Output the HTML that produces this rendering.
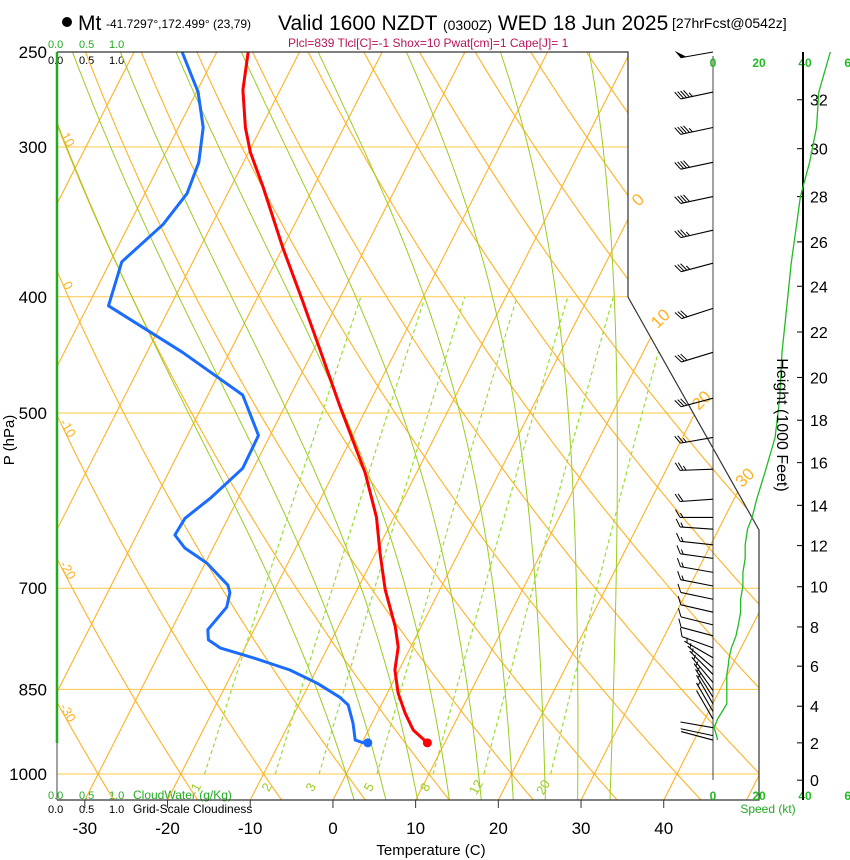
<!DOCTYPE html>
<html><head><meta charset="utf-8">
<style>
html,body{margin:0;padding:0;background:#fff;}
svg{display:block;font-family:"Liberation Sans",sans-serif;}
</style></head>
<body>
<svg id="chart" width="850" height="860" viewBox="0 0 850 860" xmlns="http://www.w3.org/2000/svg">
<defs>
<clipPath id="clipAll"><polygon points="57,52 628,52 628,297 759,530 759,800 57,800"/></clipPath>
<clipPath id="clipMain"><polygon points="57,52 628,52 628,297 759,530 759,800 57,800"/></clipPath>
</defs>
<g id="title">
<circle cx="67" cy="22" r="5" fill="#000"/>
<text x="78" y="30" font-size="21">Mt</text>
<text x="106" y="28" font-size="12">-41.7297°,172.499° (23,79)</text>
<text x="278" y="30" font-size="21">Valid 1600 NZDT <tspan font-size="14">(0300Z)</tspan> WED 18 Jun 2025</text>
<text x="672" y="28" font-size="14">[27hrFcst@0542z]</text>
<text x="288" y="47" font-size="12" fill="#b8145a">Plcl=839 Tlcl[C]=-1 Shox=10 Pwat[cm]=1 Cape[J]= 1</text>
</g>
<g font-size="11">
<text x="48" y="48" fill="#22aa22">0.0</text><text x="79" y="48" fill="#22aa22">0.5</text><text x="109" y="48" fill="#22aa22">1.0</text>
<text x="48" y="64" fill="#000">0.0</text><text x="79" y="64" fill="#000">0.5</text><text x="109" y="64" fill="#000">1.0</text>
</g>
<g font-size="11">
<text x="48" y="799" fill="#22aa22">0.0</text><text x="79" y="799" fill="#22aa22">0.5</text><text x="109" y="799" fill="#22aa22">1.0</text>
<text x="133" y="799" fill="#22aa22" font-size="12">CloudWater (g/Kg)</text>
<text x="48" y="813" fill="#000">0.0</text><text x="79" y="813" fill="#000">0.5</text><text x="109" y="813" fill="#000">1.0</text>
<text x="133" y="813" fill="#000" font-size="12">Grid-Scale Cloudiness</text>
</g>
<g id="grid" clip-path="url(#clipAll)"></g>
<g id="moist" clip-path="url(#clipMain)"></g>
<g id="profiles" clip-path="url(#clipAll)"></g>
<g id="frame"></g>
<g id="labels"></g>
<g id="wind"></g>
<text x="431" y="855" font-size="15" text-anchor="middle">Temperature (C)</text>
<text transform="translate(14,440) rotate(-90)" font-size="15" text-anchor="middle">P (hPa)</text>
<text transform="translate(777,425) rotate(90)" font-size="16" text-anchor="middle">Height (1000 Feet)</text>
<text x="768" y="813" font-size="12" fill="#22aa22" text-anchor="middle">Speed (kt)</text>
</svg>
<script>
// ---- data ----
const tempP = [250,269,289,303,324,364,402,443,494,561,611,654,702,754,784,819,856,890,919,942];
const tempT = [-56.2,-54.5,-51.9,-49.8,-46.1,-40.0,-34.5,-29.2,-23.3,-16.2,-12.1,-9.5,-6.6,-3.1,-1.5,-0.5,1.3,3.4,5.4,7.9];
const dewP = [250,270,289,309,328,348,374,407,445,483,522,556,588,612,632,648,667,696,706,726,758,773,785,800,819,840,863,876,907,937,942];
const dewT = [-64.2,-59.8,-57.0,-55.4,-54.9,-55.9,-58.6,-57.5,-45.7,-35.8,-31.4,-31.3,-33.3,-35.2,-35.4,-33.4,-29.8,-25.9,-25.2,-24.7,-25.6,-24.9,-23.0,-18.4,-13.2,-9.1,-5.5,-4.0,-2.3,-1.0,0.2];
const sfcP = 942, sfcT = 7.9, sfcTd = 0.7;
const windP = [250,270,289,309,330,352,375,409,445,486,524,557,590,611,625,644,661,679,697,715,733,751,767,785,800,815,826,839,852,863,874,887,900,915,929,937];
const windSpd = [51,46,45,42,38,36,34,32,30,29,27,23,19,17,15,14,14,13,13,12,12,11,10,8,7,6.5,6,6,6,6,6,4,2,0.5,1.5,2];
const windDir = [260,258,258,258,258,257,255,252,253,255,260,268,266,270,274,276,278,280,281,282,283,284,285,290,300,310,315,320,325,328,330,330,330,280,282,285];
const pressLevels = [250,300,400,500,700,850,1000];
const isobarLines = [300,400,500,700,850,1000];
const tempTicks = [-30,-20,-10,0,10,20,30,40];
const heightKft = [0,2,4,6,8,10,12,14,16,18,20,22,24,26,28,30,32];
const heightP = [1012,942,878,813,754,698,645,597,550,507,467,428,392,360,330,301,274];
const speedTicks = [0,20,40,60];
const mixRatios = [1,2,3,5,8,12,20];
const isoLabels = [0,10,20,30];
const isoLabelP = [332,417,488,566];
const thetaLabels = [10,0,-10,-20,-30];
const moistThetaW = [0,4,8,12,16,20,24,28,32];

// ---- axes ----
const NS='http://www.w3.org/2000/svg';
const yP = p => 52 + 520.8*Math.log(p/250);
const xT = (T,p) => 333 + 8.27*T + 0.508*(800 - yP(p));
const xS = s => 713 + s*2.3;
function mk(tag, attrs, parent){const e=document.createElementNS(NS,tag);for(const k in attrs)e.setAttribute(k,attrs[k]);parent.appendChild(e);return e;}
const grid=document.getElementById('grid'), moist=document.getElementById('moist'), prof=document.getElementById('profiles'), frame=document.getElementById('frame'), labels=document.getElementById('labels'), wind=document.getElementById('wind');
const ORANGE='#ffb224';

isobarLines.forEach(p=>{
  const l=mk('line',{x1:57,x2:759,y1:yP(p),y2:yP(p),stroke:'#ffc84a','stroke-width':1},grid);
  
  
});
for(let T=-120;T<=50;T+=10){
  const l=mk('line',{x1:xT(T,1052),y1:yP(1052),x2:xT(T,245),y2:yP(245),stroke:ORANGE,'stroke-width':1.1},grid);
  
  
}
const dryPath=(th)=>{let d='';for(let p=1052;p>=245;p-=6){const T=(th+273.15)*Math.pow(p/1000,0.2857)-273.15;d+=(d?'L':'M')+xT(T,p).toFixed(1)+','+yP(p).toFixed(1);}return d;};
for(let th=-40;th<=160;th+=10){
  const e=mk('path',{d:dryPath(th),fill:'none',stroke:ORANGE,'stroke-width':1.1},grid);
  
  
}
const es=T=>6.112*Math.exp(17.67*T/(T+243.5));
const rs=(T,p)=>{const e=es(T);return 0.622*e/(p-e);};
const dTdlnp=(T,p)=>{const Tk=T+273.15,r=rs(T,p);return (287*Tk+2.5e6*r)/(1005+2.5e6*2.5e6*r*0.622/(287*Tk*Tk));};
moistThetaW.forEach(tw=>{
  let pts=[];let T=tw,lp=Math.log(1000);
  let Td=tw,lpd=lp;const dn=[];
  while(Math.exp(lpd)<1052){Td+=dTdlnp(Td,Math.exp(lpd))*0.005;lpd+=0.005;dn.push([Td,Math.exp(lpd)]);}
  dn.reverse().forEach(q=>pts.push(q));
  pts.push([T,1000]);
  while(Math.exp(lp)>245){T+=dTdlnp(T,Math.exp(lp))*(-0.005);lp-=0.005;pts.push([T,Math.exp(lp)]);}
  const d=pts.map((q,i)=>(i?'L':'M')+xT(q[0],q[1]).toFixed(1)+','+yP(q[1]).toFixed(1)).join('');
  const e=mk('path',{d:d,fill:'none',stroke:'#99cc22','stroke-width':1},moist);
  
  
});
const tdW=(w,p)=>{const e=w*p/(622+w);const a=Math.log(e/6.112);return 243.5*a/(17.67-a);};
mixRatios.forEach(w=>{
  let d='';for(let p=1000;p>=400;p-=10){d+=(d?'L':'M')+xT(tdW(w,p),p).toFixed(1)+','+yP(p).toFixed(1);}
  const e=mk('path',{d:d,fill:'none',stroke:'#99dd33','stroke-width':1.2,'stroke-dasharray':'4,3'},moist);
  
  
  const lp=1030, lx=xT(tdW(w,lp),lp), ly=yP(lp);
  const t=mk('text',{x:lx,y:ly,'font-size':13,fill:'#99cc22','text-anchor':'middle',transform:`rotate(-60 ${lx} ${ly})`},labels);
  t.textContent=w;
  
  
});
isoLabels.forEach((T,i)=>{
  const p=isoLabelP[i], lx=xT(T,p)+4, ly=yP(p)+4;
  const t=mk('text',{x:lx,y:ly,'font-size':17,fill:ORANGE,'text-anchor':'middle',transform:`rotate(-45 ${lx} ${ly})`},labels);
  t.textContent=T;
  
  
});
thetaLabels.forEach(th=>{
  let best=1000,bd=1e9;
  for(let p=250;p<=1050;p+=1){const T=(th+273.15)*Math.pow(p/1000,0.2857)-273.15;const dx=Math.abs(xT(T,p)-64);if(dx<bd){bd=dx;best=p;}}
  const lx=64, ly=yP(best);
  const t=mk('text',{x:lx,y:ly,'font-size':13,fill:ORANGE,'text-anchor':'middle',transform:`rotate(60 ${lx} ${ly})`},labels);
  t.textContent=th;
  
  
});
const line=(P,T,col,name)=>{
  const d=P.map((p,i)=>(i?'L':'M')+xT(T[i],p).toFixed(1)+','+yP(p).toFixed(1)).join('');
  const e=mk('path',{d:d,fill:'none',stroke:col,'stroke-width':3,'stroke-linejoin':'round'},prof);
  
  
};
line(tempP,tempT,'#ff0000','temperature-line');
line(dewP,dewT,'#1a6cff','dewpoint-line');
const c1=mk('circle',{cx:xT(sfcT,sfcP),cy:yP(sfcP),r:4.5,fill:'#ff0000'},prof);


const c2=mk('circle',{cx:xT(sfcTd,sfcP),cy:yP(sfcP),r:4.5,fill:'#1a6cff'},prof);



const fr=mk('path',{d:'M57,52L628,52L628,297L759,530L759,800L57,800',fill:'none',stroke:'#333','stroke-width':1.2},frame);


const gl=mk('line',{x1:57,y1:52,x2:57,y2:743,stroke:'#22aa22','stroke-width':2.5},frame);


const gl2=mk('line',{x1:57,y1:743,x2:57,y2:800,stroke:'#444','stroke-width':1},frame);


pressLevels.forEach(p=>{
  const t=mk('text',{x:47,y:yP(p)+6,'font-size':17,'text-anchor':'end'},labels);
  t.textContent=p;
  
  
});
tempTicks.forEach(T=>{
  const x=xT(T,1051.5);
  const tk=mk('line',{x1:x,x2:x,y1:800,y2:808,stroke:'#333'},labels);
  
  
  const t=mk('text',{x:x,y:834,'font-size':17,'text-anchor':'middle'},labels);
  t.textContent=T;
  
  
});
const sa=mk('line',{x1:713,x2:713,y1:56,y2:780,stroke:'#444','stroke-width':1},wind);


speedTicks.forEach(s=>{
  [67,800].forEach(y=>{
    const t=mk('text',{x:xS(s),y:y,'font-size':12,'font-weight':'bold',fill:'#22bb22','text-anchor':'middle'},wind);
    t.textContent=s;
    
    
  });
});
const ha=mk('line',{x1:803,x2:803,y1:52,y2:800,stroke:'#000','stroke-width':2},wind);


heightKft.forEach((h,i)=>{
  const y=yP(heightP[i]);
  const tk=mk('line',{x1:797,x2:803,y1:y,y2:y,stroke:'#000'},wind);
  
  
  const t=mk('text',{x:810,y:y+6,'font-size':16},wind);
  t.textContent=h;
  
  
});
const sd=windP.map((p,i)=>(i?'L':'M')+xS(windSpd[i]).toFixed(1)+','+yP(p).toFixed(1)).join('');
const sc=mk('path',{d:sd,fill:'none',stroke:'#22bb22','stroke-width':1.3},wind);


windP.forEach((p,i)=>{
  const g=mk('g',{},wind);
  
  
  const bx=713, by=yP(p), d=windDir[i]*Math.PI/180;
  const ux=Math.sin(d), uy=-Math.cos(d), L=33;
  const tx=bx+L*ux, ty=by+L*uy;
  mk('line',{x1:bx,y1:by,x2:tx,y2:ty,stroke:'#000','stroke-width':1.1},g);
  const a=Math.PI/3, vx=ux*Math.cos(a)-uy*Math.sin(a), vy=ux*Math.sin(a)+uy*Math.cos(a);
  let s=Math.round(windSpd[i]/5)*5, pos=0;
  while(s>=50){
    const p1x=tx-ux*pos, p1y=ty-uy*pos, p2x=tx-ux*(pos+6), p2y=ty-uy*(pos+6);
    mk('polygon',{points:`${p1x},${p1y} ${p1x+vx*9},${p1y+vy*9} ${p2x},${p2y}`,fill:'#000'},g);
    pos+=8;s-=50;
  }
  while(s>=10){
    const px=tx-ux*pos, py=ty-uy*pos;
    mk('line',{x1:px,y1:py,x2:px+vx*9,y2:py+vy*9,stroke:'#000','stroke-width':1},g);
    pos+=3;s-=10;
  }
  if(s>=5){
    if(pos===0)pos=3;
    const px=tx-ux*pos, py=ty-uy*pos;
    mk('line',{x1:px,y1:py,x2:px+vx*5,y2:py+vy*5,stroke:'#000','stroke-width':1},g);
  }
});
</script>
</body></html>
